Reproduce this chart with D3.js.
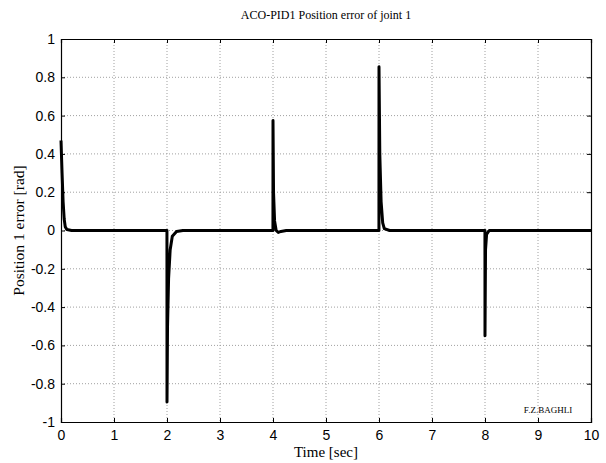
<!DOCTYPE html>
<html><head><meta charset="utf-8">
<script src="https://cdn.jsdelivr.net/npm/d3@7"></script>
<style>body{margin:0;background:#fff}svg{display:block}</style>
</head><body>
<svg id="c" width="606" height="463"></svg>
<script>
// Data
const timeSec = [0, 0.02, 0.04, 0.06, 0.08, 0.11, 0.2, 1.999, 2.0, 2.01, 2.03, 2.06, 2.1, 2.18, 2.3,
  3.999, 4.0, 4.01, 4.03, 4.06, 4.1, 4.15, 4.25, 5.999, 6.0, 6.015, 6.04, 6.07, 6.1, 6.2,
  7.999, 8.0, 8.01, 8.03, 8.08, 10];
const posError = [0.47, 0.3, 0.15, 0.06, 0.02, 0.005, 0, 0, -0.895, -0.5, -0.25, -0.1, -0.03, -0.005, 0,
  0, 0.575, 0.2, 0.05, 0, -0.01, -0.005, 0, 0, 0.855, 0.4, 0.15, 0.04, 0.01, 0,
  0, -0.55, -0.1, -0.02, 0, 0];
const xTicks = [0,1,2,3,4,5,6,7,8,9,10];
const yTicks = [-1,-0.8,-0.6,-0.4,-0.2,0,0.2,0.4,0.6,0.8,1];

const L = 61, R = 591, T = 39, B = 422;
const svg = d3.select("#c");
const x = d3.scaleLinear().domain([0,10]).range([L,R]);
const y = d3.scaleLinear().domain([-1,1]).range([B,T]);

// grid
const g = svg.append("g");
g.selectAll(".gx").data(xTicks.slice(1,-1)).enter().append("line")
  .attr("x1",d=>x(d)).attr("x2",d=>x(d)).attr("y1",T).attr("y2",B)
  .attr("stroke","#a0a0a0").attr("stroke-width",1).attr("stroke-dasharray","1,2");
g.selectAll(".gy").data(yTicks.slice(1,-1)).enter().append("line")
  .attr("y1",d=>y(d)).attr("y2",d=>y(d)).attr("x1",L).attr("x2",R)
  .attr("stroke","#a0a0a0").attr("stroke-width",1).attr("stroke-dasharray","1,2");

// axes
const fmt = d => String(d);
const ax = svg.append("g").attr("transform",`translate(0,${B})`)
  .call(d3.axisBottom(x).tickValues(xTicks).tickSize(-4).tickPadding(8).tickFormat(fmt));
const ay = svg.append("g").attr("transform",`translate(${L},0)`)
  .call(d3.axisLeft(y).tickValues(yTicks).tickSize(-4).tickPadding(6).tickFormat(fmt));
const axT = svg.append("g").attr("transform",`translate(0,${T})`)
  .call(d3.axisTop(x).tickValues(xTicks).tickSize(-4).tickFormat(""));
const ayR = svg.append("g").attr("transform",`translate(${R},0)`)
  .call(d3.axisRight(y).tickValues(yTicks).tickSize(-4).tickFormat(""));
[ax,ay,axT,ayR].forEach(a=>{
  a.select(".domain").attr("stroke","#000").attr("stroke-width",1.2);
  a.selectAll(".tick line").attr("stroke","#000");
  a.selectAll("text").attr("font-family","Liberation Sans, Arial, sans-serif").attr("font-size",14).attr("fill","#000");
});

// line
svg.append("path")
  .datum(timeSec.map((t,i)=>[t,posError[i]]))
  .attr("fill","none").attr("stroke","#000").attr("stroke-width",3).attr("stroke-linejoin","round")
  .attr("d", d3.line().x(d=>x(d[0])).y(d=>y(d[1])));

// texts
const serif = "Liberation Serif, Times New Roman, serif";
svg.append("text").attr("x",(L+R)/2).attr("y",19).attr("text-anchor","middle")
  .attr("font-family",serif).attr("font-size",12).text("ACO-PID1 Position error of joint 1");
svg.append("text").attr("x",(L+R)/2).attr("y",457).attr("text-anchor","middle")
  .attr("font-family",serif).attr("font-size",15).text("Time [sec]");
svg.append("text").attr("transform",`translate(24,${(T+B)/2}) rotate(-90)`).attr("text-anchor","middle")
  .attr("font-family",serif).attr("font-size",15.5).text("Position 1 error [rad]");
svg.append("text").attr("x",548).attr("y",413).attr("text-anchor","middle")
  .attr("font-family",serif).attr("font-size",9).text("F.Z.BAGHLI");
</script>
</body></html>
